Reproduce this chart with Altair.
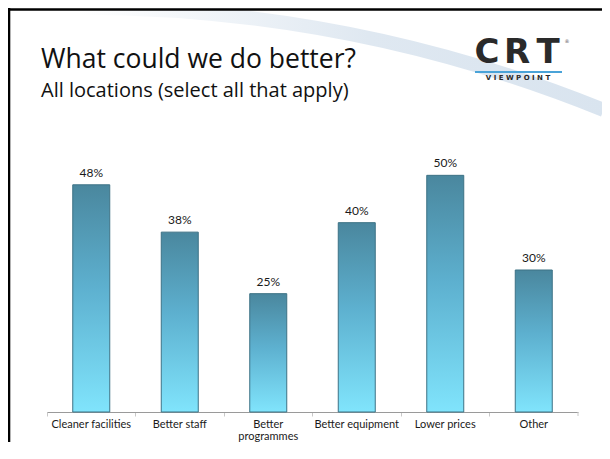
import altair as alt
import pandas as pd

categories = ["Cleaner facilities", "Better staff", "Better programmes",
              "Better equipment", "Lower prices", "Other"]
axis_labels = ["Cleaner facilities", "Better staff", "Better\nprogrammes",
               "Better equipment", "Lower prices", "Other"]
values = [48, 38, 25, 40, 50, 30]
value_labels = ["48%", "38%", "25%", "40%", "50%", "30%"]

title_text = "What could we do better?"
subtitle_text = "All locations (select all that apply)"

df = pd.DataFrame({"category": categories, "value": values,
                   "label": value_labels, "axis_label": axis_labels})
one = pd.DataFrame({"k": [0]})

FONT = "Lato"
TFONT = "Open Sans"

xscale = alt.Scale(domain=categories, range=[39, 570], paddingInner=0, paddingOuter=0)
yscale = alt.Scale(domain=[0, 60], range=[404, 120])

x_enc = alt.X("category:N", scale=xscale, sort=categories,
              axis=alt.Axis(title=None, labels=False, bandPosition=0, grid=False,
                            domainColor="#9a9a9a", domainWidth=1,
                            tickColor="#c8c8c8", tickSize=4, tickWidth=1))
y_enc = alt.Y("value:Q", scale=yscale, axis=None)

grad = alt.Gradient(
    gradient="linear",
    stops=[alt.GradientStop(color="#4a879e", offset=0),
           alt.GradientStop(color="#5db0cf", offset=0.45),
           alt.GradientStop(color="#80e4fc", offset=1)],
    x1=0, x2=0, y1=0, y2=1)

swoosh_grad = alt.Gradient(
    gradient="linear",
    stops=[alt.GradientStop(color="#ffffff", offset=0),
           alt.GradientStop(color="#dfe8f1", offset=0.55),
           alt.GradientStop(color="#d9e4ef", offset=1)],
    x1=0, x2=1, y1=0, y2=0)

swoosh = alt.Chart(one).mark_arc(
    theta=0.0, theta2=0.385, innerRadius=1391, outerRadius=1405,
    fill=swoosh_grad
).encode(x=alt.value(70.6), y=alt.value(1397.7))

bars = alt.Chart(df).mark_bar(
    size=37, color=grad, stroke="#3d7285", strokeWidth=1
).encode(x=x_enc, y=y_enc)

vlabels = alt.Chart(df).mark_text(
    dy=-12, fontSize=12, font=FONT, color="#1a1a1a", baseline="middle"
).encode(x=alt.X("category:N", scale=xscale, sort=categories), y=y_enc,
         text="label:N")

xlabels = alt.Chart(df).mark_text(
    fontSize=11, font=FONT, color="#1a1a1a", baseline="top", lineBreak="\n",
    lineHeight=12
).encode(x=alt.X("category:N", scale=xscale, sort=categories),
         y=alt.value(411), text="axis_label:N")

end_tick = alt.Chart(one).mark_rule(color="#c8c8c8").encode(
    x=alt.value(570), y=alt.value(404), y2=alt.value(408))

title = alt.Chart(one).mark_text(
    text=title_text, align="left", baseline="alphabetic", fontSize=26.5,
    font=TFONT, color="#111111"
).encode(x=alt.value(33), y=alt.value(60))

subtitle = alt.Chart(one).mark_text(
    text=subtitle_text, align="left", baseline="alphabetic", fontSize=20,
    font=TFONT, color="#111111"
).encode(x=alt.value(33), y=alt.value(89))

def letter(ch, xpos, size=34):
    return alt.Chart(one).mark_text(
        text=ch, align="center", baseline="alphabetic", fontSize=size,
        font="DejaVu Sans", fontWeight="bold", color="#2a2a2a"
    ).encode(x=alt.value(xpos), y=alt.value(55))

logo_c = letter("C", 479)
logo_r = letter("R", 509)
logo_t = letter("T", 540)
logo_reg = alt.Chart(one).mark_text(
    text="®", align="center", baseline="middle", fontSize=5,
    font="DejaVu Sans", color="#555555"
).encode(x=alt.value(559), y=alt.value(33))
logo_line = alt.Chart(one).mark_rule(color="#4aa3d8", strokeWidth=2).encode(
    x=alt.value(467), x2=alt.value(554), y=alt.value(64))
logo_vp = alt.Chart(one).mark_text(
    text="V I E W P O I N T", align="center", baseline="middle", fontSize=7,
    font="DejaVu Sans", fontWeight="bold", color="#2a2a2a"
).encode(x=alt.value(510), y=alt.value(70))

bottom_band = alt.Chart(one).mark_rule(color="#eef4f9", strokeWidth=6).encode(
    x=alt.value(2), x2=alt.value(602), y=alt.value(448))
border_top = alt.Chart(one).mark_rule(color="black", strokeWidth=2.6).encode(
    x=alt.value(0), x2=alt.value(602), y=alt.value(1.5))
border_left = alt.Chart(one).mark_rule(color="black", strokeWidth=2.6).encode(
    x=alt.value(1), y=alt.value(0), y2=alt.value(451))

chart = alt.layer(
    swoosh, bottom_band, border_top, border_left, bars, vlabels, xlabels, end_tick,
    title, subtitle, logo_c, logo_r, logo_t, logo_reg, logo_line, logo_vp
).properties(
    width=594, height=404,
    autosize=alt.AutoSizeParams(type="none"),
    padding={"left": 0, "top": 0, "right": 0, "bottom": 30},
    background="white"
).configure_view(stroke=None)

chart.save("out.html", embed_options={"renderer": "svg", "actions": False})
